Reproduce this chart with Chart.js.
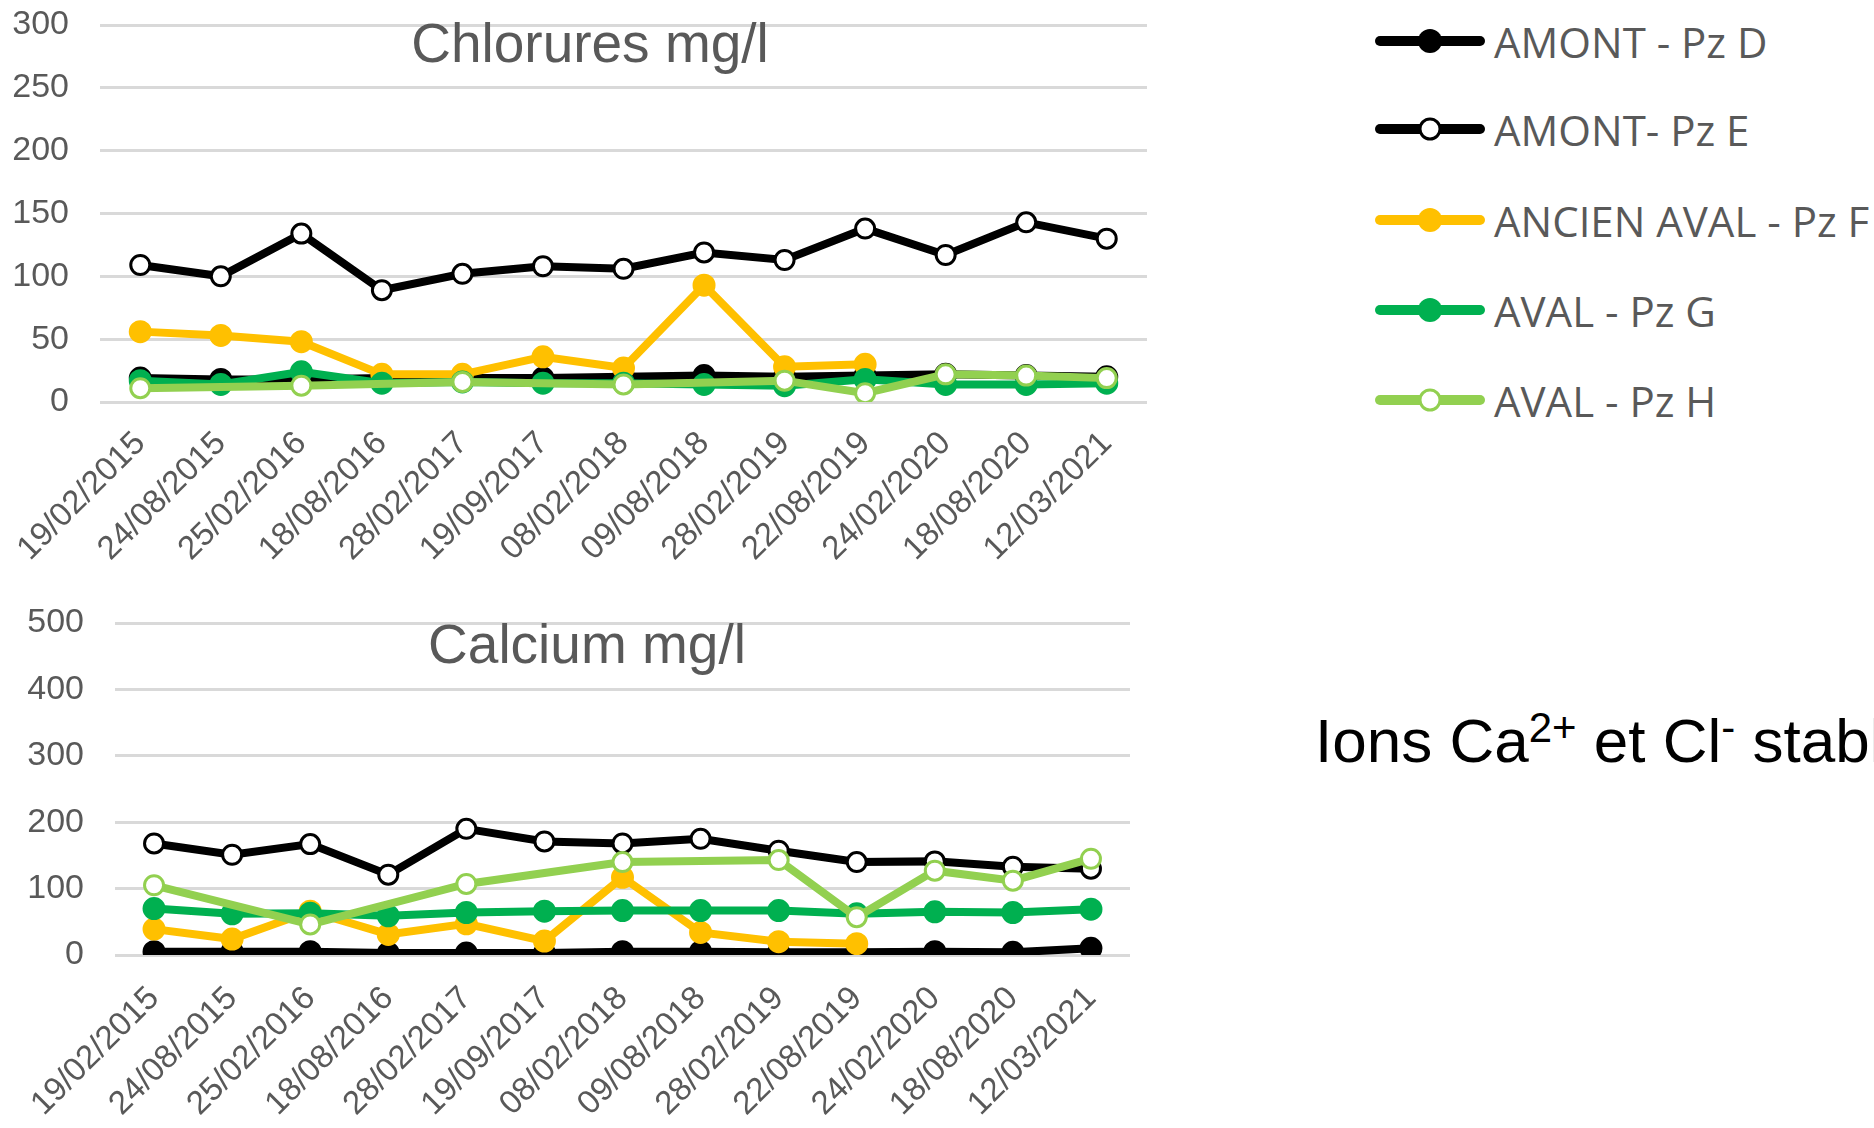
<!DOCTYPE html>
<html lang="fr">
<head>
<meta charset="utf-8">
<title>Chlorures et Calcium</title>
<script src="https://cdn.jsdelivr.net/npm/chart.js@4.4.1/dist/chart.umd.min.js"></script>
<style>
  html, body { margin: 0; padding: 0; background: #fff; width: 1874px; height: 1128px; overflow: hidden; }
  #c1 { position: absolute; left: 0; top: 0; }
  #c2 { position: absolute; left: 0; top: 580px; }
  #legende { position: absolute; left: 1374px; top: 0; font-family: "Open Sans", sans-serif; font-size: 42px; color: #595959; }
  .item { position: absolute; left: 0; height: 40px; display: flex; align-items: center; white-space: nowrap; }
  .item svg { margin-right: 8px; flex: none; }
  #note { position: absolute; left: 1315px; top: 710px; font-family: "Liberation Sans", Arial, sans-serif; font-size: 62px; line-height: 62px; color: #000; white-space: nowrap; }
  #note sup { font-size: 42px; line-height: 0; vertical-align: 20px; }
</style>
</head>
<body>
<canvas id="c1" width="1180" height="580"></canvas>
<canvas id="c2" width="1160" height="548"></canvas>
<div id="legende"></div>
<div id="note">Ions Ca<sup>2+</sup> et Cl<sup>-</sup> stables</div>

<script>
// dates de prélèvement
const dates = ['19/02/2015', '24/08/2015', '25/02/2016', '18/08/2016', '28/02/2017', '19/09/2017',
  '08/02/2018', '09/08/2018', '28/02/2019', '22/08/2019', '24/02/2020', '18/08/2020', '12/03/2021'];

const noms = ['AMONT - Pz D', 'AMONT- Pz E', 'ANCIEN AVAL - Pz F', 'AVAL - Pz G', 'AVAL - Pz H'];

// Chlorures mg/l
const chloD = [19, 18, 18, 19, 19, 19, 20, 21, 20, 21, 22, 21, 20];
const chloE = [109, 100, 134, 89, 102, 108, 106, 119, 113, 138, 117, 143, 130];
const chloF = [56, 53, 48, 22, 22, 36, 27, 93, 28, 30, null, null, null];
const chloG = [17, 14, 24, 15, 16, 15, 15, 14, 13, 18, 14, 14, 15];
const chloH = [11, null, 13, null, 16, null, 14, null, 17, 7, 22, 21, 19];
const chloTicks = [0, 50, 100, 150, 200, 250, 300];

// Calcium mg/l
const calcD = [5, 5, 5, 3, 3, 3, 5, 5, 4, 4, 5, 4, 10];
const calcE = [168, 151, 167, 121, 190, 171, 168, 175, 157, 140, 141, 133, 130];
const calcF = [39, 24, 66, 31, 47, 21, 117, 34, 20, 17, null, null, null];
const calcG = [70, 62, 63, 59, 64, 66, 67, 67, 67, 62, 65, 64, 69];
const calcH = [105, null, 46, null, 107, null, 140, null, 143, 57, 127, 112, 145];
const calcTicks = [0, 100, 200, 300, 400, 500];

// style des séries (couleur, marqueur creux ou plein)
const couleurs = ['#000000', '#000000', '#FFC000', '#00B050', '#92D050'];
const creux = [false, true, false, false, true];
const gris = '#595959';

// titre posé dans la zone du graphique, comme dans Excel
const titreInterne = {
  id: 'titreInterne',
  beforeDatasetsDraw(chart, args, opts) {
    const ctx = chart.ctx;
    ctx.save();
    ctx.font = '55px "Liberation Sans", Arial, sans-serif';
    ctx.fillStyle = gris;
    ctx.textAlign = 'center';
    ctx.textBaseline = 'alphabetic';
    ctx.fillText(opts.text, opts.x, opts.y);
    ctx.restore();
  }
};

function series(valeurs) {
  return valeurs.map((v, i) => ({
    label: noms[i],
    data: v,
    borderColor: couleurs[i],
    backgroundColor: couleurs[i],
    borderWidth: 8,
    pointRadius: creux[i] ? 9.5 : 10,
    pointBorderWidth: 3,
    pointBackgroundColor: creux[i] ? '#ffffff' : couleurs[i],
    pointBorderColor: couleurs[i],
    spanGaps: true,
    tension: 0,
    order: 5 - i // Pz H dessiné au-dessus
  }));
}

function options(cfg) {
  return {
    responsive: false,
    animation: false,
    layout: { padding: { top: cfg.haut, right: cfg.droite, left: 0, bottom: 0 } },
    plugins: {
      legend: { display: false },
      tooltip: { enabled: false },
      titreInterne: { text: cfg.titre, x: cfg.titreX, y: cfg.titreY }
    },
    scales: {
      x: {
        offset: true,
        grid: { display: false },
        border: { display: false },
        ticks: {
          color: gris,
          font: { family: '"Liberation Sans", Arial, sans-serif', size: 33 },
          minRotation: 45,
          maxRotation: 45,
          autoSkip: false,
          padding: cfg.padX
        },
        afterFit: s => { s.height = cfg.hauteurX; }
      },
      y: {
        min: cfg.ticks[0],
        max: cfg.ticks[cfg.ticks.length - 1],
        afterBuildTicks: s => { s.ticks = cfg.ticks.map(v => ({ value: v })); },
        grid: { color: '#D9D9D9', lineWidth: 3, drawTicks: false },
        border: { display: false },
        ticks: {
          color: gris,
          font: { family: '"Liberation Sans", Arial, sans-serif', size: 34 },
          padding: cfg.pad
        },
        afterFit: s => { s.width = cfg.largeurY; s.paddingTop = 0; s.paddingBottom = 0; }
      }
    }
  };
}

new Chart(document.getElementById('c1'), {
  type: 'line',
  data: { labels: dates, datasets: series([chloD, chloE, chloF, chloG, chloH]) },
  options: options({ haut: 25, droite: 33, hauteurX: 178, largeurY: 100, pad: 31, padX: 14,
    ticks: chloTicks, titre: 'Chlorures mg/l', titreX: 590, titreY: 62 }),
  plugins: [titreInterne]
});

new Chart(document.getElementById('c2'), {
  type: 'line',
  data: { labels: dates, datasets: series([calcD, calcE, calcF, calcG, calcH]) },
  options: options({ haut: 43, droite: 30, hauteurX: 173, largeurY: 115, pad: 31, padX: 16,
    ticks: calcTicks, titre: 'Calcium mg/l', titreX: 587, titreY: 83 }),
  plugins: [titreInterne]
});

// légende commune à droite
const legende = document.getElementById('legende');
const centres = [41, 129, 220, 310, 400];
noms.forEach((nom, i) => {
  const div = document.createElement('div');
  div.className = 'item';
  div.style.top = (centres[i] - 20) + 'px';
  const rempl = creux[i] ? '#ffffff' : couleurs[i];
  div.innerHTML =
    '<svg width="112" height="30" viewBox="0 0 112 30">' +
    '<line x1="6" y1="15" x2="106" y2="15" stroke="' + couleurs[i] + '" stroke-width="10" stroke-linecap="round"/>' +
    '<circle cx="56" cy="15" r="' + (creux[i] ? 10 : 12) + '" fill="' + rempl + '" stroke="' + couleurs[i] + '" stroke-width="' + (creux[i] ? 3 : 0) + '"/>' +
    '</svg><span>' + nom + '</span>';
  legende.appendChild(div);
});
</script>
</body>
</html>
